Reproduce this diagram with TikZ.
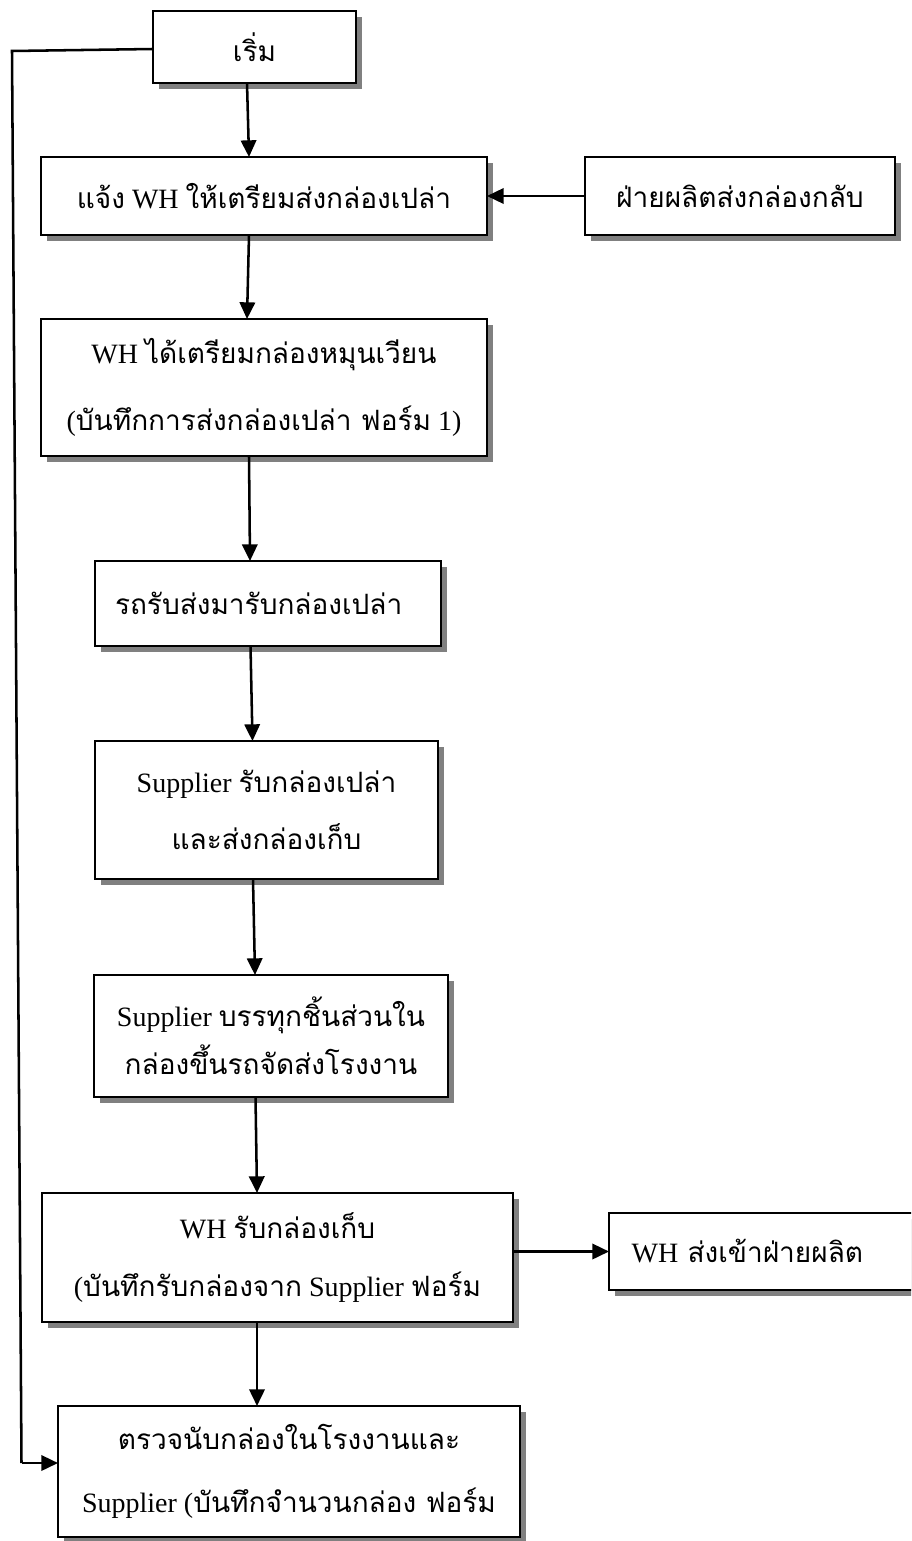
\documentclass[tikz,border=0pt]{standalone}
\usepackage{fontspec}
\setmainfont{Liberation Serif}
\newfontfamily\thaifont[Script=Thai,Scale=1.0]{Loma}
\newcommand\thx[1]{{\thaifont #1}}
\usetikzlibrary{arrows.meta,shadows,calc}
\begin{document}
\begin{tikzpicture}[x=0.75pt,y=-0.75pt,
  box/.style={draw=black, line width=1.9pt, fill=white, inner sep=0pt, outer sep=0pt, align=center,
    drop shadow={shadow xshift=4.5pt, shadow yshift=-4.5pt, fill=black!50, opacity=1}},
  arr/.style={line width=1.9pt, -{Triangle[length=12.5pt,width=11.5pt]}},
  ln/.style={line width=1.9pt}]
\path[use as bounding box] (0,0) rectangle (911,1541);
\clip (0,0) rectangle (911,1541);
\fill[white] (0,0) rectangle (911,1541);

\node[box, minimum width=152.25pt, minimum height=54pt, font=\fontsize{21}{25}\selectfont] (b1) at (254.5,47) {\thx{เริ่ม}};
\node[box, minimum width=334.5pt, minimum height=58.5pt, font=\fontsize{21}{25}\selectfont] (b2) at (264,196) {\thx{แจ้ง} WH \thx{ให้เตรียมส่งกล่องเปล่า}};
\node[box, minimum width=232.5pt, minimum height=58.5pt, font=\fontsize{21}{25}\selectfont] (b3) at (740,196) {\thx{ฝ่ายผลิตส่งกล่องกลับ}};
\node[box, minimum width=334.5pt, minimum height=102.75pt, font=\fontsize{21}{50}\selectfont] (b4) at (264,387.5) {WH \thx{ได้เตรียมกล่องหมุนเวียน}\\(\thx{บันทึกการส่งกล่องเปล่า ฟอร์ม} 1)};
\node[box, minimum width=259.5pt, text width=229.5pt, inner xsep=15pt, align=left, minimum height=63.75pt, font=\fontsize{21}{25}\selectfont] (b5) at (268,603.5) {\thx{รถรับส่งมารับกล่องเปล่า}};
\node[box, minimum width=257.25pt, minimum height=103.5pt, font=\fontsize{21}{43}\selectfont] (b6) at (266.5,810) {Supplier \thx{รับกล่องเปล่า}\\\thx{และส่งกล่องเก็บ}};
\node[box, minimum width=265.5pt, minimum height=91.5pt, font=\fontsize{21}{36}\selectfont] (b7) at (271,1036) {Supplier \thx{บรรทุกชิ้นส่วนใน}\\\thx{กล่องขึ้นรถจัดส่งโรงงาน}};
\node[box, minimum width=353.25pt, minimum height=96.75pt, font=\fontsize{21}{43.5}\selectfont] (b8) at (277.5,1257.5) {WH \thx{รับกล่องเก็บ}\\(\thx{บันทึกรับกล่องจาก} Supplier \thx{ฟอร์ม}};
\node[box, minimum width=263.25pt, text width=229.25pt, inner xsep=17pt, align=left, minimum height=57.75pt, font=\fontsize{21}{25}\selectfont] (b9) at (784.5,1251.5) {WH \thx{ส่งเข้าฝ่ายผลิต}};
\node[box, minimum width=346.5pt, minimum height=98.25pt, font=\fontsize{21}{47}\selectfont] (b10) at (289,1471.5) {\thx{ตรวจนับกล่องในโรงงานและ}\\Supplier (\thx{บันทึกจำนวนกล่อง ฟอร์ม}};

\coordinate (c1) at (12,51);
\coordinate (c2) at (21.5,1463);
\draw[ln] ($(b1.west)+(0,2)$) -- (c1) -- (c2);
\draw[arr] (c2) -- (c2 -| b10.west);

\draw[arr] ($(b1.south)+(-7.5,0)$) -- ($(b2.north)+(-15,0)$);
\draw[arr] ($(b2.south)+(-15,0)$) -- ($(b4.north)+(-17,0)$);
\draw[arr] ($(b4.south)+(-15,0)$) -- ($(b5.north)+(-18,0)$);
\draw[arr] ($(b5.south)+(-17.5,0)$) -- ($(b6.north)+(-14,0)$);
\draw[arr] ($(b6.south)+(-13.5,0)$) -- ($(b7.north)+(-16,0)$);
\draw[arr] ($(b7.south)+(-15.5,0)$) -- ($(b8.north)+(-20.5,0)$);
\draw[arr] ($(b8.south)+(-20.5,0)$) -- ($(b10.north)+(-32,0)$);
\draw[arr] (b3.west) -- (b2.east);
\draw[arr] (b8.east |- b9.west) -- (b9.west);
\end{tikzpicture}
\end{document}
